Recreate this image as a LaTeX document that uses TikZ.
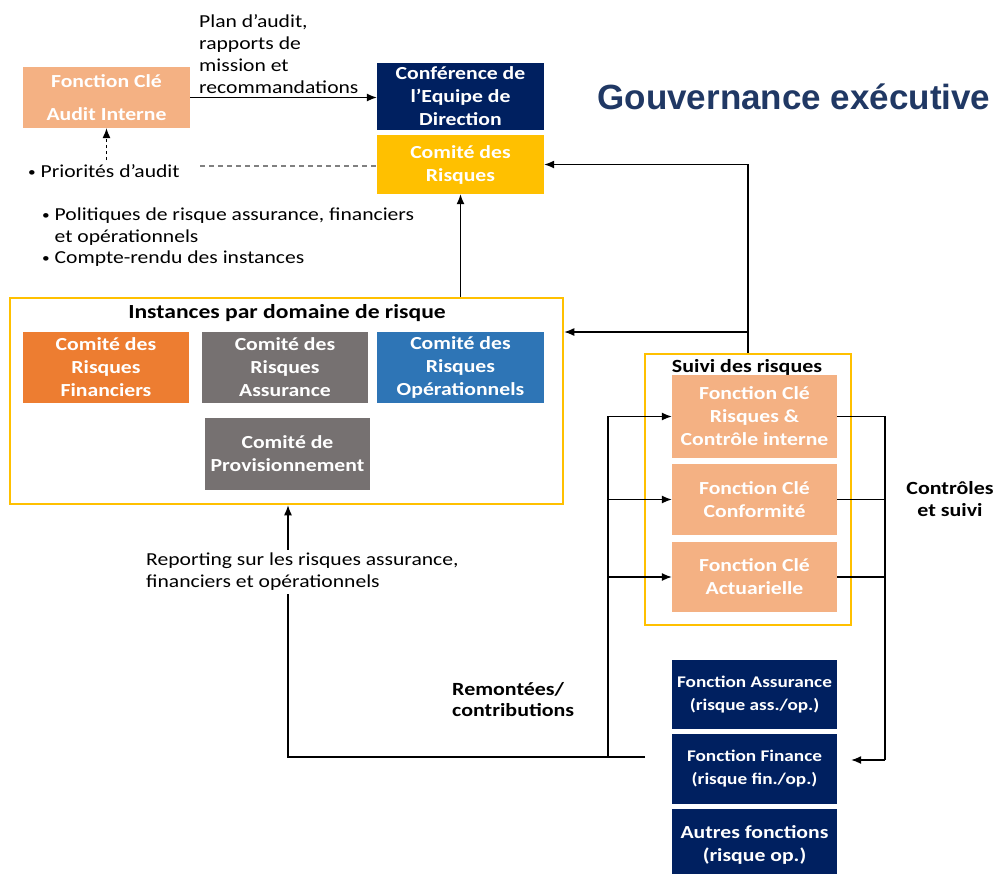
\documentclass[tikz,border=0pt]{standalone}
\usepackage{fontspec}
\setmainfont{Carlito}[FakeStretch=1.18]
\newfontfamily\gfont{Liberation Sans}
\usetikzlibrary{arrows.meta,calc}
\definecolor{peach}{HTML}{F4B183}
\definecolor{navy}{HTML}{002060}
\definecolor{gold}{HTML}{FFC000}
\definecolor{orng}{HTML}{ED7D31}
\definecolor{grayb}{HTML}{767171}
\definecolor{blueb}{HTML}{2E75B6}
\definecolor{titleblue}{HTML}{203864}
\newcommand{\smbul}{{\fontsize{13}{13}\selectfont\raisebox{1pt}{\textbullet}}\ }
\begin{document}
\begin{tikzpicture}[x=1pt,y=-1pt,
  box/.style={inner sep=0pt, text=white, align=center, minimum width=166,
     font=\bfseries\fontsize{18.4}{23}\selectfont},
  frame/.style={draw=gold, line width=2.5pt, inner sep=0pt},
  txt/.style={inner sep=0pt, align=left, font=\fontsize{18.3}{22}\selectfont},
  btxt/.style={inner sep=0pt, align=left, font=\bfseries\fontsize{18.6}{21.5}\selectfont},
  arr/.style={-{Latex[length=10pt,width=8pt]}, line width=1.3pt},
  ln/.style={line width=1.3pt}]
\useasboundingbox (0,0) rectangle (996,873);

% titles
\node[inner sep=0pt, text=titleblue, font=\gfont\bfseries\fontsize{35}{40}\selectfont] (gov) at (794,97) {Gouvernance exécutive};

% top boxes
\node[box, fill=peach, minimum width=167, minimum height=61] (audit) at (106.5,97.5) {Fonction Clé\\[10pt]Audit Interne};
\node[box, fill=navy, minimum width=167, minimum height=67] (conf) at (460.5,96.5) {Conférence de\\l’Equipe de\\Direction};
\node[box, fill=gold, minimum width=167, minimum height=59] (crisk) at (460.5,164.5) {Comité des\\Risques};

% instances frame
\node[frame, minimum width=553, minimum height=206] (inst) at (286.5,401) {};
\node[btxt, font=\bfseries\fontsize{20}{22}\selectfont] (insttitle) at (287,313) {Instances par domaine de risque};
\node[box, fill=orng, minimum height=71] (fin) at (106,367.5) {Comité des\\Risques\\Financiers};
\node[box, fill=grayb, minimum height=71] (ass) at (285,367.5) {Comité des\\Risques\\Assurance};
\node[box, fill=blueb, minimum width=167, minimum height=71] (ope) at (460.5,367.5) {Comité des\\Risques\\Opérationnels};
\node[box, fill=grayb, minimum width=165, minimum height=72] (prov) at (287.5,454) {Comité de\\Provisionnement};

% suivi frame
\node[frame, minimum width=206, minimum height=271] (suivi) at (748,489.5) {};
\node[btxt] (suivititle) at (747,367) {Suivi des risques};
\node[box, fill=peach, minimum width=165, minimum height=83] (rci) at (754.5,416.5) {Fonction Clé\\Risques \&\\Contrôle interne};
\node[box, fill=peach, minimum width=165, minimum height=71] (conform) at (754.5,499.5) {Fonction Clé\\Conformité};
\node[box, fill=peach, minimum width=165, minimum height=70] (actu) at (754.5,577) {Fonction Clé\\Actuarielle};

% operational boxes
\node[box, fill=navy, minimum width=165, minimum height=69, font=\bfseries\fontsize{16.3}{23}\selectfont] (fass) at (754.5,694.5) {Fonction Assurance\\(risque ass./op.)};
\node[box, fill=navy, minimum width=165, minimum height=70, font=\bfseries\fontsize{16.3}{23}\selectfont] (ffin) at (754.5,769) {Fonction Finance\\(risque fin./op.)};
\node[box, fill=navy, minimum width=165, minimum height=71] (autres) at (754.5,844.5) {Autres fonctions\\(risque op.)};

% text labels
\node[txt, anchor=north west] (plan) at (199,14) {Plan d’audit,\\rapports de\\mission et\\recommandations};
\node[txt, anchor=west] (prio) at (28,171) {\smbul Priorités d’audit};
\node[txt, anchor=north west, font=\fontsize{18.3}{21.5}\selectfont] (pol) at (42,208) {\smbul Politiques de risque assurance, financiers\\\hphantom{\smbul}et opérationnels\\\smbul Compte-rendu des instances};
\node[btxt, anchor=center, align=center] (ctrl) at (950,499) {Contrôles\\et suivi};
\node[btxt, anchor=north west] (remo) at (452,682) {Remontées/\\contributions};

% connectors
\draw[arr] (audit.east) -- (conf.west |- audit.east);
\coordinate (pa) at (106.5,160);
\draw[arr, dashed, line width=1pt] (pa) -- (audit.south);
\coordinate (dl) at (200,166);
\draw[dashed, gray, line width=1.2pt, dash pattern=on 5pt off 4pt] (dl) -- (crisk.west |- dl);
\draw[arr] (crisk.south |- inst.north) -- (crisk.south);
\draw[arr] (suivi.north) |- (crisk.east);
\coordinate (j1) at (748,332);
\draw[arr] (j1) -- (inst.east |- j1);

\coordinate (src) at (645,757);
\coordinate (rb) at (288,757);
\coordinate (bb) at (608,757);
\draw[arr] (src) -- (rb) -- (rb |- inst.south);
\draw[arr] (bb) |- (rci.west);
\draw[arr] (bb) |- (conform.west);
\draw[arr] (bb) |- (actu.west);

\coordinate (rr) at (885,760);
\draw[ln] (rci.east) -| (rr);
\draw[ln] (conform.east) -- (conform.east -| rr);
\draw[ln] (actu.east) -- (actu.east -| rr);
\draw[arr] (rr) -- ($(ffin.east |- rr)+(14,0)$);

\node[txt, anchor=north west, fill=white, inner ysep=3pt] (rep) at (146,550) {Reporting sur les risques assurance,\\financiers et opérationnels};
\end{tikzpicture}
\end{document}
